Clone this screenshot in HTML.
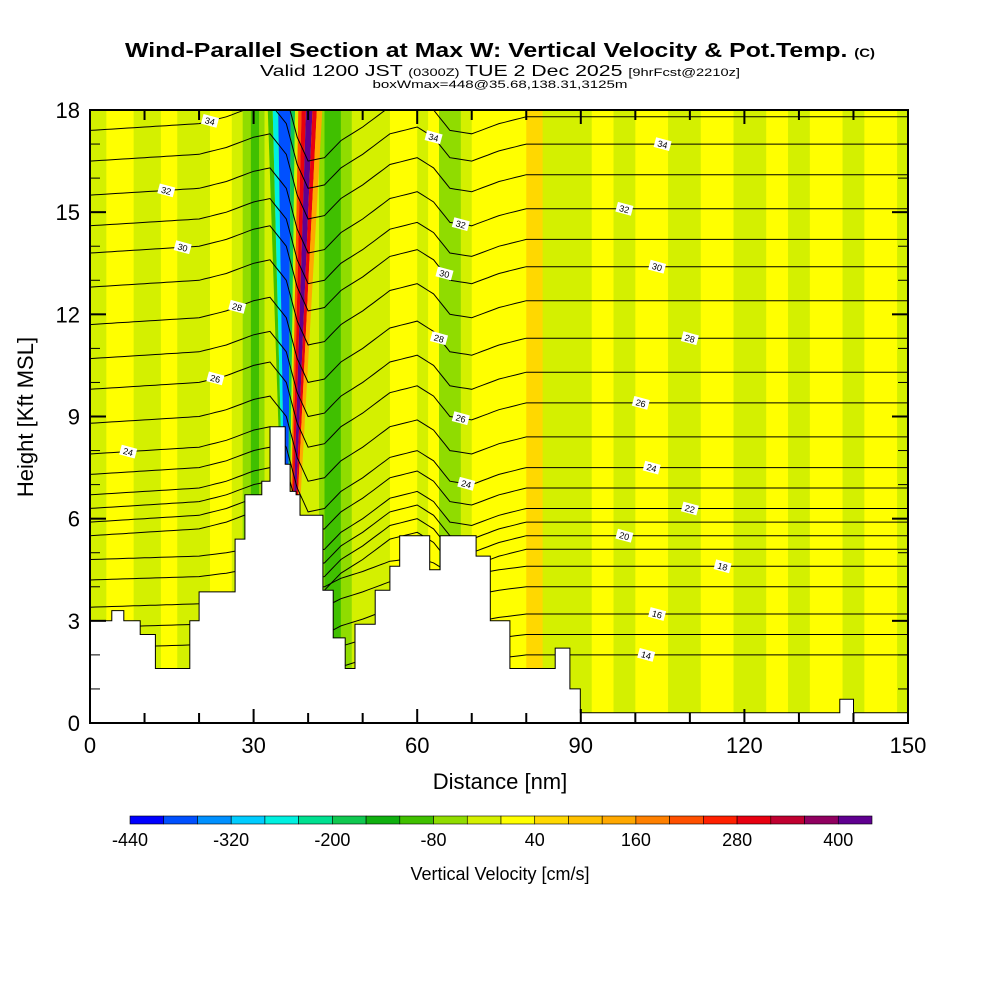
<!DOCTYPE html>
<html><head><meta charset="utf-8">
<style>
body{margin:0;background:#fff;}
svg text{font-family:"Liberation Sans",sans-serif;}
</style></head>
<body>
<svg id="chart" width="1000" height="1000" viewBox="0 0 1000 1000" xmlns="http://www.w3.org/2000/svg">
<rect width="1000" height="1000" fill="#fff"/>
<g>
<text x="500" y="57" text-anchor="middle" font-size="20" font-weight="bold" textLength="750" lengthAdjust="spacingAndGlyphs">Wind-Parallel Section at Max W: Vertical Velocity &amp; Pot.Temp. <tspan font-size="12">(C)</tspan></text>
<text x="500" y="76" text-anchor="middle" font-size="16" textLength="480" lengthAdjust="spacingAndGlyphs">Valid 1200 JST <tspan font-size="11">(0300Z)</tspan> TUE 2 Dec 2025 <tspan font-size="11">[9hrFcst@2210z]</tspan></text>
<text x="500" y="88" text-anchor="middle" font-size="11" textLength="255" lengthAdjust="spacingAndGlyphs">boxWmax=448@35.68,138.31,3125m</text>
</g>
<defs><clipPath id="plotclip"><rect x="90" y="110" width="818" height="613"/></clipPath></defs>
<g id="fill" clip-path="url(#plotclip)"></g>
<g id="contours" clip-path="url(#plotclip)"></g>
<g id="terrain"></g>
<g id="clabels"></g>
<g id="axes"></g>
<g id="cbar"></g>
</svg>
<script>
// ---- data ----
const binEdges=[-440,-400,-360,-320,-280,-240,-200,-160,-120,-80,-40,0,40,80,120,160,200,240,280,320,360,400,440];
const binColors=["#0000ff","#0050ff","#0090ff","#00ccff","#00f0e0","#00e090","#10c850","#10b010","#40c000","#90dc00","#d4f000","#ffff00","#ffd800","#ffc000","#ffa800","#ff8000","#ff5000","#ff2000","#e80010","#c00030","#900060","#600090"];
const cbarLabels=[-440,-320,-200,-80,40,160,280,400];
const bandStart=[0,3,8,13,16,22,26,28,29.5,31,32,42,43,46,48,55,60,62,64,68,70,80,83,85,92,96,100,106,112,118,124,128,132,138,142,148];
const bandEnd  =[3,8,13,16,22,26,28,29.5,31,32,34,43,46,48,55,60,62,64,68,70,80,83,85,92,96,100,106,112,118,124,128,132,138,142,148,150];
const bandVal  =[-20,20,-20,20,-20,20,-20,-60,-100,-60,-20,-60,-120,-60,-20,20,-20,20,-60,-20,20,60,-20,-20,20,-20,20,-20,20,-20,20,-20,20,-20,20,-20];
// plume streaks: x at top (18 kft) and at base (6.6 kft), in nm
const plumeTopL=[32.6,33.5,34.5,36.8,37.6,38.2,38.8,39.6,40.8,41.6];
const plumeTopR=[33.5,34.5,36.8,37.6,38.2,38.8,39.6,40.8,41.6,42.6];
const plumeBotL=[35.0,35.3,35.6,36.4,36.7,36.9,37.1,37.4,37.8,38.1];
const plumeBotR=[35.3,35.6,36.4,36.7,36.9,37.1,37.4,37.8,38.1,38.6];
const plumeVal =[-120,-280,-400,-200,-40,200,300,420,300,140];
const terrX=[0,3.3,4,6.2,6.2,9.2,12,16,18.3,20,24,26.6,28.4,31.5,33,34.8,35.8,36.7,37.8,38.5,42.2,42.7,44.6,46.8,48.6,52.3,55,56.8,60.5,62.3,64.2,70,70.8,73.4,77,82.5,85.3,88,89.9,136.6,137.5,139.4,140,150];
const terrH=[3.0,3.0,3.3,3.3,3.0,2.6,1.6,1.6,3.0,3.85,3.85,5.4,6.7,7.1,8.7,8.7,7.6,6.8,6.7,6.1,6.1,3.9,2.5,1.6,2.9,3.9,4.6,5.5,5.5,4.5,5.5,5.5,4.9,3.0,1.6,1.6,2.2,1.0,0.3,0.3,0.7,0.7,0.3,0.3];
const thetaLevels=[14,15,16,17,18,19,20,21,22,23,24,25,26,27,28,29,30,31,32,33,34,35];
const thetaBaseH=[2.0,2.6,3.2,4.0,4.6,5.1,5.5,5.9,6.3,6.9,7.5,8.4,9.4,10.3,11.3,12.4,13.4,14.2,15.1,16.1,17.0,17.8];
const dispX=[0,10,20,25,30,33,36,38,40,43,46,50,55,60,63,66,70,75,80,90,150];
const dispH=[0.4,0.5,0.6,0.8,1.1,1.2,0.6,-0.6,-1.3,-1.2,-0.7,-0.3,0.3,0.5,0.2,-0.4,-0.5,-0.2,0,0,0];
const labX=[22,14,17,27,23,7,63,68,65,64,68,69,105,98,104,110,101,103,110,98,116,104,102];
const labLev=[34,32,30,28,26,24,34,32,30,28,26,24,34,32,30,28,26,24,22,20,18,16,14];
// ---- axes ----
const X0=90,X1=908,Y0=723,Y1=110;
const sx=v=>X0+(v/150)*(X1-X0);
const sy=v=>Y0-(v/18)*(Y0-Y1);
const NS="http://www.w3.org/2000/svg";
function mk(tag,parent,attrs){const e=document.createElementNS(NS,tag);for(const k in attrs)e.setAttribute(k,attrs[k]);parent.appendChild(e);return e;}
function colorOf(v){for(let i=0;i<binColors.length;i++){if(v<binEdges[i+1])return binColors[i];}return binColors[binColors.length-1];}
function interp(xs,ys,x){if(x<=xs[0])return ys[0];for(let i=1;i<xs.length;i++){if(x<=xs[i]){const t=(x-xs[i-1])/(xs[i]-xs[i-1]);return ys[i-1]+t*(ys[i]-ys[i-1]);}}return ys[ys.length-1];}
// fill
const fill=document.getElementById('fill');
let bg=mk('rect',fill,{x:X0,y:Y1,width:X1-X0,height:Y0-Y1,fill:'#d4f000'});


for(let i=0;i<bandStart.length;i++){
 const r=mk('rect',fill,{x:sx(bandStart[i]),y:Y1,width:sx(bandEnd[i])-sx(bandStart[i])+0.5,height:Y0-Y1,fill:colorOf(bandVal[i])});
 
 
}
for(let i=0;i<plumeVal.length;i++){
 const pts=[[sx(plumeTopL[i]),sy(18)],[sx(plumeTopR[i]),sy(18)],[sx(plumeBotR[i]),sy(6.6)],[sx(plumeBotL[i]),sy(6.6)]].map(p=>p.join(',')).join(' ');
 const p=mk('polygon',fill,{points:pts,fill:colorOf(plumeVal[i])});
 
 
}
// contours
const cg=document.getElementById('contours');
const xsSample=[];for(let x=0;x<=150;x+=1)xsSample.push(x);
for(let j=0;j<thetaLevels.length;j++){
 const amp=thetaBaseH[j]>5?1:0.5;
 const d=xsSample.map((x,k)=>(k?'L':'M')+sx(x).toFixed(1)+','+sy(thetaBaseH[j]+amp*interp(dispX,dispH,x)).toFixed(1)).join(' ');
 const p=mk('path',cg,{d:d,fill:'none',stroke:'#000','stroke-width':1});
 
 
}
// terrain
const tg=document.getElementById('terrain');
let tp='M'+sx(0)+','+sy(0);
for(let i=0;i<terrX.length;i++){
 if(i>0)tp+=' L'+sx(terrX[i]).toFixed(1)+','+sy(terrH[i-1]).toFixed(1);
 tp+=' L'+sx(terrX[i]).toFixed(1)+','+sy(terrH[i]).toFixed(1);
}
tp+=' L'+sx(150)+','+sy(0)+' Z';
const tpath=mk('path',tg,{d:tp,fill:'#fff',stroke:'#000','stroke-width':1});


// contour labels
const lg=document.getElementById('clabels');
for(let i=0;i<labX.length;i++){
 const j=thetaLevels.indexOf(labLev[i]);
 const amp=thetaBaseH[j]>5?1:0.5;
 const x=sx(labX[i]),y=sy(thetaBaseH[j]+amp*interp(dispX,dispH,labX[i]));
 const g=mk('g',lg,{transform:'translate('+x.toFixed(1)+','+y.toFixed(1)+') rotate(15)'});
 
 
 mk('rect',g,{x:-8,y:-5,width:16,height:10,fill:'#fff'});
 const t=mk('text',g,{x:0,y:3.5,'text-anchor':'middle','font-size':9,fill:'#000'});
 t.textContent=labLev[i];
}
// axes
const ag=document.getElementById('axes');
const frame=mk('rect',ag,{x:X0,y:Y1,width:X1-X0,height:Y0-Y1,fill:'none',stroke:'#000','stroke-width':2});


for(let v=0;v<=150;v+=10){
 const x=sx(v),len=v%30===0?14:10;
 mk('line',ag,{x1:x,y1:Y0,x2:x,y2:Y0-len,stroke:'#000','stroke-width':2});
 mk('line',ag,{x1:x,y1:Y1,x2:x,y2:Y1+len,stroke:'#000','stroke-width':2});
 if(v%30===0){const t=mk('text',ag,{x:x,y:753,'text-anchor':'middle','font-size':22});t.textContent=v;
 
 }
}
for(let v=0;v<=18;v+=1){
 const y=sy(v),len=v%3===0?16:10;
 mk('line',ag,{x1:X0,y1:y,x2:X0+len,y2:y,stroke:'#000','stroke-width':v%3===0?2:1});
 mk('line',ag,{x1:X1,y1:y,x2:X1-len,y2:y,stroke:'#000','stroke-width':v%3===0?2:1});
 if(v%3===0){const t=mk('text',ag,{x:80,y:y+8,'text-anchor':'end','font-size':22});t.textContent=v;
 
 }
}
const xt=mk('text',ag,{x:500,y:789,'text-anchor':'middle','font-size':22});xt.textContent='Distance [nm]';


const yt=mk('text',ag,{x:0,y:0,'text-anchor':'middle','font-size':22,transform:'translate(33,417) rotate(-90)'});yt.textContent='Height [Kft MSL]';


// colorbar
const cb=document.getElementById('cbar');
const cx=v=>130+(v+440)/880*742;
for(let i=0;i<binColors.length;i++){
 const r=mk('rect',cb,{x:cx(binEdges[i]),y:816,width:cx(binEdges[i+1])-cx(binEdges[i]),height:8,fill:binColors[i],stroke:'#000','stroke-width':0.6});
 
 
}
for(const v of cbarLabels){
 const t=mk('text',cb,{x:cx(v),y:846,'text-anchor':'middle','font-size':18});t.textContent=v;
 
 
}
const ct=mk('text',cb,{x:500,y:880,'text-anchor':'middle','font-size':18});ct.textContent='Vertical Velocity [cm/s]';


</script>
</body></html>
